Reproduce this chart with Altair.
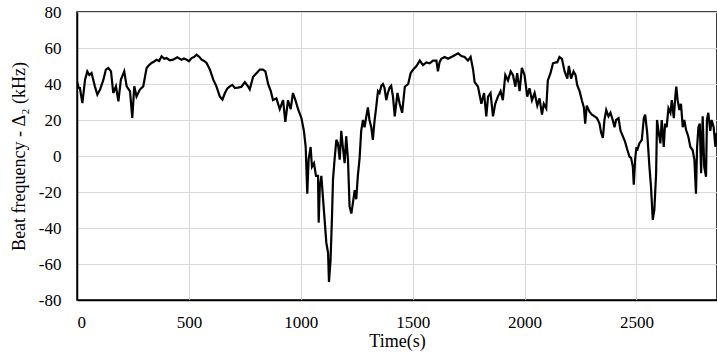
import altair as alt
import pandas as pd

time_s = [0, 7, 13, 24, 36, 46, 55, 65, 80, 91, 103, 118, 129, 140, 152, 162, 174, 185, 196, 211,
          222, 237, 247, 256, 266, 281, 296, 311, 322, 333, 345, 356, 367, 378, 390, 400, 415, 430,
          448, 467, 478, 490, 500, 512, 523, 534, 545, 557, 568, 579, 594, 609, 623, 638, 650, 661,
          672, 683, 694, 705, 720, 735, 750, 765, 772, 787, 802, 817, 831, 842, 854, 866, 876, 891,
          906, 921, 931, 943, 955, 965, 976, 988, 1003, 1014, 1022, 1029, 1035, 1044, 1050, 1059,
          1068, 1077, 1080, 1085, 1092, 1099, 1107, 1114, 1122, 1126, 1133, 1139, 1144, 1151, 1159,
          1166, 1174, 1181, 1188, 1196, 1203, 1211, 1218, 1226, 1233, 1241, 1248, 1255, 1263, 1270,
          1278, 1285, 1293, 1300, 1307, 1315, 1322, 1330, 1337, 1345, 1352, 1360, 1367, 1374, 1382,
          1389, 1397, 1404, 1412, 1420, 1432, 1442, 1453, 1465, 1480, 1491, 1502, 1517, 1532, 1546,
          1561, 1576, 1591, 1606, 1613, 1620, 1628, 1643, 1658, 1673, 1688, 1703, 1718, 1732, 1747,
          1759, 1770, 1777, 1792, 1807, 1819, 1829, 1837, 1848, 1859, 1869, 1881, 1893, 1903, 1914,
          1926, 1938, 1948, 1959, 1967, 1978, 1988, 2000, 2012, 2022, 2033, 2045, 2057, 2067, 2078,
          2086, 2097, 2104, 2116, 2127, 2139, 2146, 2156, 2167, 2179, 2191, 2198, 2208, 2219, 2228,
          2235, 2246, 2256, 2265, 2271, 2278, 2290, 2301, 2313, 2324, 2335, 2342, 2350, 2357, 2365,
          2375, 2384, 2394, 2402, 2409, 2420, 2429, 2439, 2449, 2458, 2469, 2476, 2484, 2488, 2494,
          2500, 2503, 2513, 2524, 2533, 2539, 2548, 2558, 2565, 2573, 2580, 2588, 2592, 2598, 2607,
          2613, 2622, 2628, 2635, 2643, 2652, 2658, 2667, 2673, 2678, 2684, 2692, 2699, 2707, 2714,
          2722, 2732, 2741, 2751, 2759, 2766, 2771, 2777, 2783, 2789, 2796, 2803, 2811, 2815, 2821,
          2830, 2836, 2845, 2853, 2857, 2866]

beat_khz = [41.5, 38, 37.8, 29.4, 42.4, 47, 45, 46.1, 38.7, 34.1, 36.9, 42.4, 48, 48.9, 47, 35, 38.7,
            30.4, 42.4, 47, 38.7, 35.9, 21.1, 38.7, 33.1, 36.9, 38.7, 48.9, 50.5, 51.7, 52.5, 53.5,
            52.8, 55.4, 54, 54.4, 53.2, 53.5, 54.8, 53.5, 54.2, 53.5, 52.6, 54.4, 55, 56.3, 55.2,
            53.5, 52.8, 51.7, 48, 42.4, 38.7, 33.1, 31.3, 35, 37.5, 38.7, 39.5, 37.8, 38, 38.5, 41,
            38.5, 37, 44, 46, 48, 48, 47, 40, 36, 31, 32, 26, 31, 19, 31, 26, 35, 31, 26, 21, 14, 5,
            -21, -2, 5, -6, -4, -11, -11, -37, -17, -11, -23, -36, -48, -54, -70, -58, -36, -13, -2,
            9, 7, -2, 14, 5, -4, 11, -2, -28, -32, -26, -19, -24, -11, -1, 14, 20, 16, 22, 27, 20,
            16, 9, 20, 27, 36, 35, 39, 40, 38, 31, 35, 38, 39, 33, 22, 35, 29, 24, 38.5, 40, 46, 48,
            50, 53, 50.5, 52, 51.5, 53, 53, 47, 52, 54, 55, 54, 55, 56, 57, 55.5, 55, 53, 55, 48,
            41, 38.5, 29, 35, 22, 33, 35, 22, 29, 33, 36, 31, 45, 42, 47, 45, 38.5, 46, 36, 49, 45,
            33, 37.6, 31, 35, 28, 32, 23, 29, 26.5, 42, 46, 51.5, 52, 52, 55, 54, 47, 43, 50, 43, 47,
            45, 39.5, 36, 31, 27, 18, 28, 24.6, 23, 22, 21, 18, 13, 10, 20, 25.5, 22, 24, 20, 16, 20,
            21, 14, 11, 8, 4, -0.4, -1, -6, -16, -2, 5, 3, 7, 9, 21, 23, 13, -6, -17, -35.5, -30,
            -9.6, 20, 14.4, 7, 20, 5, 18, 16, 26.5, 24, 31, 21, 32, 38.5, 31, 25.5, 29, 16, 20, 14.4,
            10.7, 5, 3.3, -2, -21, 5, 16, 18, -9.6, 22, -6, -11.5, 20, 24, 14, 20, 16, 5, 12.6, 10]

x_ticks = [0, 500, 1000, 1500, 2000, 2500]
y_ticks = [-80, -60, -40, -20, 0, 20, 40, 60, 80]

df = pd.DataFrame({"t": time_s, "v": beat_khz})

FONT = "Liberation Serif"

chart = (
    alt.Chart(df)
    .mark_line(color="black", strokeWidth=2.2, clip=True)
    .encode(
        x=alt.X("t:Q", scale=alt.Scale(domain=[0, 2860], nice=False, zero=False),
                axis=alt.Axis(values=x_ticks, title="Time(s)", labelPadding=14, tickSize=0,
                              titlePadding=2, format="d", labelFont=FONT, labelFontSize=17,
                              titleFont=FONT, titleFontSize=18)),
        y=alt.Y("v:Q", scale=alt.Scale(domain=[-80, 80], nice=False),
                axis=alt.Axis(values=y_ticks, title="Beat frequency - Δ₂  (kHz)",
                              labelPadding=16, tickSize=0, titlePadding=10,
                              labelFont=FONT, labelFontSize=17, titleFont=FONT, titleFontSize=18,
                              labelExpr="datum.value < 0 ? '-' + abs(datum.value) : '' + datum.value")),
    )
    .properties(width=640, height=288, autosize="none",
                padding={"left": 77, "top": 12, "right": 0, "bottom": 60})
    .configure(font=FONT)
    .configure_view(stroke="black", strokeWidth=1.5)
    .configure_axis(labelColor="black", titleColor="black", titleFontWeight="normal",
                    gridColor="#d9d9d9", gridWidth=1.2, domainColor="black", domainWidth=1.5)
)

chart.save("out.html", embed_options={"renderer": "svg", "actions": False})
